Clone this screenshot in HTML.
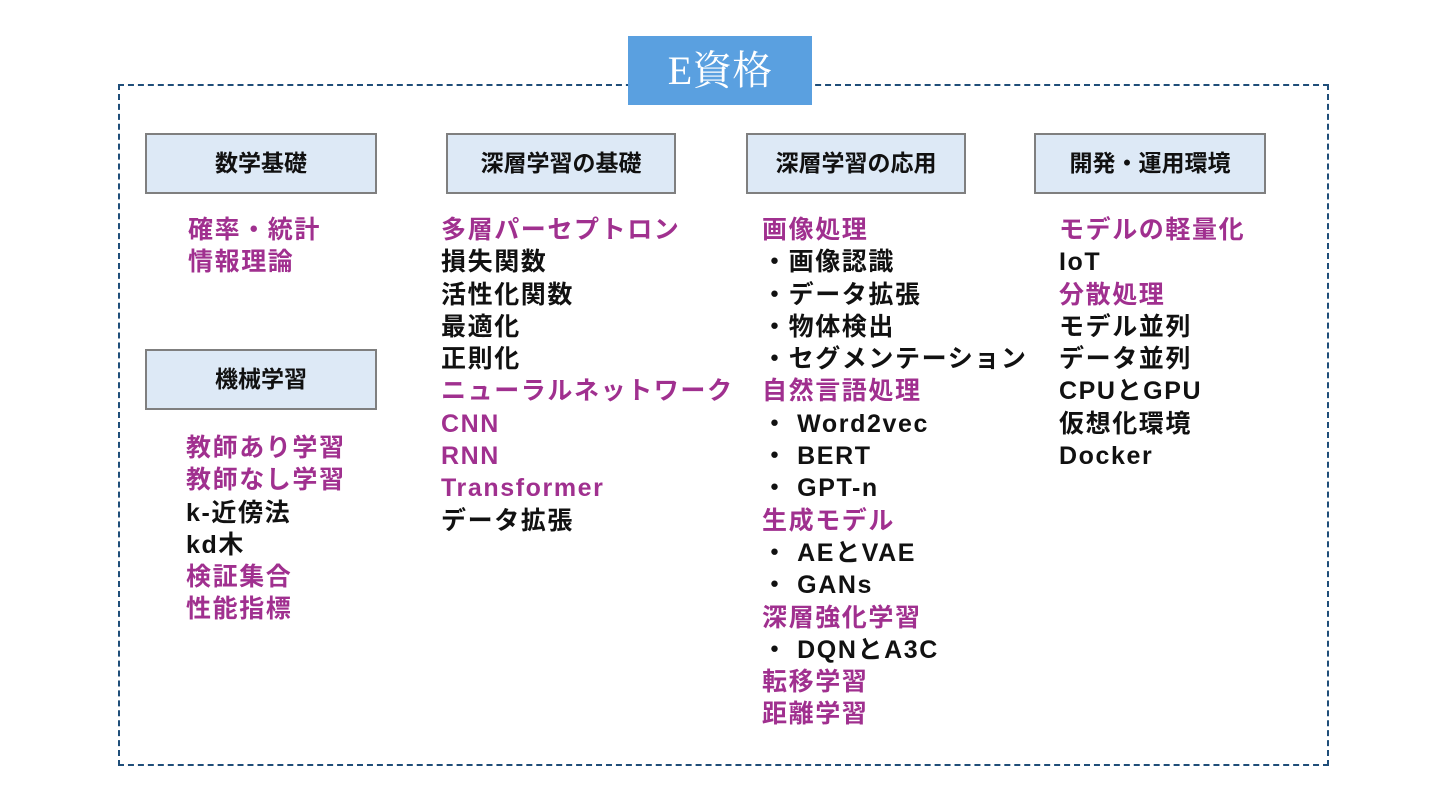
<!DOCTYPE html>
<html><head><meta charset="utf-8"><style>
body{margin:0;width:1440px;height:810px;background:#fff;position:relative;overflow:hidden;font-family:"Liberation Sans","Noto Sans CJK JP",sans-serif;}
.frame{position:absolute;left:118px;top:84px;width:1207px;height:678px;border:2px dashed #1f4e79;}
.title{position:absolute;left:628px;top:36px;width:184px;height:69px;background:#5aa0e0;color:#fff;font-family:"Liberation Serif","Noto Serif CJK SC",serif;font-size:40px;line-height:69px;text-align:center;}
.hd{position:absolute;background:#dde9f6;border:2px solid #7f7f7f;box-sizing:border-box;height:61px;font-weight:bold;font-size:23px;text-align:center;line-height:57px;color:#111;}
.list{position:absolute;font-weight:bold;font-size:25px;line-height:32.3px;letter-spacing:1.6px;color:#111;white-space:nowrap;}
.p{color:#a0308f;}
</style></head><body>
<div class="frame"></div>
<div class="title">E資格</div>
<div class="hd" style="left:145px;top:133px;width:232px">数学基礎</div>
<div class="hd" style="left:446px;top:133px;width:230px">深層学習の基礎</div>
<div class="hd" style="left:746px;top:133px;width:220px">深層学習の応用</div>
<div class="hd" style="left:1034px;top:133px;width:232px">開発・運用環境</div>
<div class="hd" style="left:145px;top:349px;width:232px">機械学習</div>
<div class="list" style="left:188px;top:214px"><div class="p">確率・統計</div><div class="p">情報理論</div></div>
<div class="list" style="left:186px;top:432px"><div class="p">教師あり学習</div><div class="p">教師なし学習</div><div>k-近傍法</div><div>kd木</div><div class="p">検証集合</div><div class="p">性能指標</div></div>
<div class="list" style="left:441px;top:214px"><div class="p">多層パーセプトロン</div><div>損失関数</div><div>活性化関数</div><div>最適化</div><div>正則化</div><div class="p">ニューラルネットワーク</div><div class="p">CNN</div><div class="p">RNN</div><div class="p">Transformer</div><div>データ拡張</div></div>
<div class="list" style="left:762px;top:214px"><div class="p">画像処理</div><div>・画像認識</div><div>・データ拡張</div><div>・物体検出</div><div>・セグメンテーション</div><div class="p">自然言語処理</div><div>・ Word2vec</div><div>・ BERT</div><div>・ GPT-n</div><div class="p">生成モデル</div><div>・ AEとVAE</div><div>・ GANs</div><div class="p">深層強化学習</div><div>・ DQNとA3C</div><div class="p">転移学習</div><div class="p">距離学習</div></div>
<div class="list" style="left:1059px;top:214px"><div class="p">モデルの軽量化</div><div>IoT</div><div class="p">分散処理</div><div>モデル並列</div><div>データ並列</div><div>CPUとGPU</div><div>仮想化環境</div><div>Docker</div></div>
</body></html>
